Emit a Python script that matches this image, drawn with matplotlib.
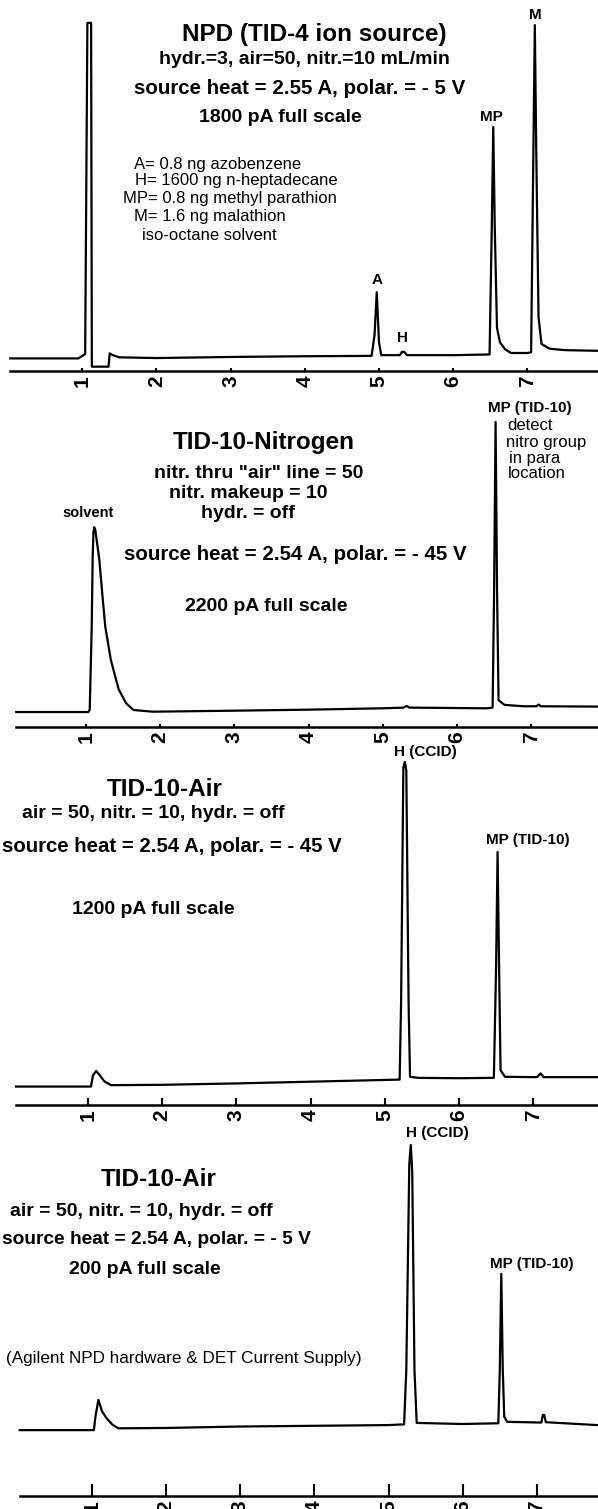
import matplotlib
matplotlib.use('Agg')
import matplotlib.pyplot as plt

plt.rcParams['font.family'] = ['Liberation Sans', 'DejaVu Sans']

W, H = 598, 1509

# retention time (min) / response (% of full scale)
npd_t = [0.03, 0.95, 1.0, 1.04, 1.07, 1.12, 1.13, 1.355, 1.37, 1.40, 1.5, 2.0, 3.0, 4.0, 4.90,
         4.94, 4.97, 5.0, 5.03, 5.28, 5.31, 5.34, 5.38, 6.0, 6.49, 6.52, 6.54, 6.56, 6.59, 6.63,
         6.70, 6.78, 7.0, 7.05, 7.08, 7.10, 7.12, 7.15, 7.19, 7.30, 7.5, 7.97]
npd_v = [3.5, 3.5, 4.2, 4.7, 96.7, 96.7, 1.2, 1.2, 4.9, 4.5, 3.8, 3.6, 3.9, 4.1, 4.2,
         10, 21.9, 8, 4.4, 4.4, 5.3, 5.3, 4.4, 4.4, 4.6, 40, 67.8, 40, 12, 8,
         6, 5.0, 5.0, 5.2, 60, 96.1, 60, 15, 7.5, 6.2, 5.8, 5.6]

n2_t = [0.06, 1.03, 1.05, 1.077, 1.09, 1.10, 1.11, 1.125, 1.15, 1.18, 1.22, 1.26, 1.335, 1.44,
        1.54, 1.64, 1.90, 3.0, 4.0, 5.0, 5.28, 5.32, 5.36, 6.4, 6.48, 6.50, 6.52, 6.54, 6.56,
        6.64, 6.9, 7.07, 7.1, 7.13, 7.89]
n2_v = [4.4, 4.4, 5.0, 29.5, 50, 57, 58.8, 58, 54, 49.1, 39, 29.5, 19.7, 11.1,
        7.0, 5.0, 4.5, 4.8, 5.1, 5.5, 5.7, 6.2, 5.7, 5.5, 5.7, 40, 89.7, 40, 7.9,
        6.5, 6.1, 6.1, 6.6, 6.1, 6.0]

air45_t = [0.03, 1.04, 1.067, 1.11, 1.16, 1.22, 1.31, 2.0, 3.0, 4.0, 5.0, 5.20, 5.22, 5.25,
           5.27, 5.29, 5.32, 5.34, 5.45, 6.0, 6.47, 6.50, 6.52, 6.54, 6.56, 6.62, 7.05, 7.10,
           7.14, 7.87]
air45_v = [5.3, 5.3, 8.5, 9.8, 8.5, 6.8, 5.7, 5.8, 6.2, 6.7, 7.2, 7.3, 30, 97,
           98.6, 96, 30, 8.1, 7.8, 7.7, 7.8, 40, 72.7, 40, 10, 8.1, 8.0, 9.1,
           8.0, 8.0]

air5_t = [0.03, 1.03, 1.05, 1.09, 1.14, 1.2, 1.28, 1.36, 2.0, 3.0, 4.0, 5.0, 5.21, 5.24,
          5.28, 5.30, 5.32, 5.35, 5.38, 6.0, 6.48, 6.50, 6.52, 6.54, 6.56, 6.60, 7.06, 7.08,
          7.10, 7.12, 7.81]
air5_v = [18.3, 18.3, 22, 26.7, 23.5, 21.6, 19.8, 18.8, 18.9, 19.3, 19.5, 19.7, 19.9, 35,
          92, 97.5, 90, 35, 20.3, 20.0, 20.2, 35, 61.7, 35, 22, 20.6, 20.4, 22.5,
          22.5, 20.5, 19.7]

ticks = [1, 2, 3, 4, 5, 6, 7]

fig = plt.figure(figsize=(W / 100, H / 100), dpi=100)


def ftext(x, y, s, size=14, weight='bold', ha='center', va='center'):
    fig.text(x / W, 1 - y / H, s, fontsize=size, fontweight=weight, ha=ha, va=va)


def panel(top, bottom, x0, t_start, t, v, ticklen, pad):
    # x0 = pixel where t=0, 74.2 px per minute in the scan
    ax = fig.add_axes([0, 1 - bottom / H, 1, (bottom - top) / H])
    ax.set_xlim(-x0 / 74.2, (W - x0) / 74.2)
    ax.set_ylim(0, 100)
    ax.plot(t, v, color='black', lw=1.6, solid_joinstyle='round')
    for s in ['top', 'right', 'left']:
        ax.spines[s].set_visible(False)
    ax.spines['bottom'].set_linewidth(1.8)
    ax.spines['bottom'].set_bounds(t_start, (W - x0) / 74.2)
    ax.set_yticks([])
    ax.set_xticks(ticks)
    ax.set_xticklabels([str(k) for k in ticks], rotation=90, fontsize=15,
                       fontweight='bold', va='top', ha='center')
    ax.tick_params(axis='x', direction='in', length=ticklen, width=1.5, pad=pad)
    ax.patch.set_visible(False)
    return ax


def peak(ax, label, t, v, dx, dy, size=11):
    ax.annotate(label, (t, v), xytext=(dx, dy), textcoords='offset pixels',
                ha='center', va='center', fontsize=size, fontweight='bold')


# panel 1 - NPD
ax1 = panel(11, 371, 8, 0.03, npd_t, npd_v, 2.5, 3)
ftext(314, 35, 'NPD (TID-4 ion source)', size=17.5)
ftext(304, 60, 'hydr.=3, air=50, nitr.=10 mL/min')
ftext(300, 89, 'source heat = 2.55 A, polar. = - 5 V', size=14.8)
ftext(280, 117, '1800 pA full scale')
ftext(134, 164, 'A= 0.8 ng azobenzene', size=12, weight='normal', ha='left')
ftext(135, 180, 'H= 1600 ng n-heptadecane', size=12, weight='normal', ha='left')
ftext(123, 198, 'MP= 0.8 ng methyl parathion', size=12, weight='normal', ha='left')
ftext(134, 216, 'M= 1.6 ng malathion', size=12, weight='normal', ha='left')
ftext(142, 236, 'iso-octane solvent', size=12, weight='normal', ha='left')
peak(ax1, 'A', 4.97, 21.9, 0, 12)
peak(ax1, 'H', 5.32, 5.3, 0, 14)
peak(ax1, 'MP', 6.52, 67.8, 0, 10)
peak(ax1, 'M', 7.10, 96.1, 0, 10)

# panel 2 - TID-10 nitrogen
ax2 = panel(387, 727, 11.8, 0.06, n2_t, n2_v, 2.5, 3)
ftext(264, 442, 'TID-10-Nitrogen', size=17.5)
ftext(259, 473, 'nitr. thru "air" line = 50')
ftext(248, 493, 'nitr. makeup = 10')
ftext(248, 514, 'hydr. = off')
ftext(295, 555, 'source heat = 2.54 A, polar. = - 45 V', size=14.8)
ftext(266, 607, '2200 pA full scale')
peak(ax2, 'solvent', 1.11, 58.8, -6, 14, size=10.5)
peak(ax2, 'MP (TID-10)', 6.52, 89.7, 34, 14)
ftext(507, 426, 'detect', size=12, weight='normal', ha='left')
ftext(506, 442, 'nitro group', size=12, weight='normal', ha='left')
ftext(509, 458, 'in para', size=12, weight='normal', ha='left')
ftext(508, 474, 'location', size=12, weight='normal', ha='left')

# panel 3 - TID-10 air, -45 V
ax3 = panel(757, 1105, 13.8, 0.03, air45_t, air45_v, 5, 3)
ftext(165, 789, 'TID-10-Air', size=17.5)
ftext(153, 813, 'air = 50, nitr. = 10, hydr. = off')
ftext(2, 846, 'source heat = 2.54 A, polar. = - 45 V', size=14.7, ha='left')
ftext(153, 909, '1200 pA full scale')
peak(ax3, 'H (CCID)', 5.27, 98.6, 21, 10)
peak(ax3, 'MP (TID-10)', 6.52, 72.7, 30, 12)

# panel 4 - TID-10 air, -5 V
ax4 = panel(1136, 1496, 17.5, 0.03, air5_t, air5_v, 9, 3)
ftext(159, 1179, 'TID-10-Air', size=17.5)
ftext(141, 1211, 'air = 50, nitr. = 10, hydr. = off')
ftext(2, 1240, 'source heat = 2.54 A, polar. = - 5 V', size=13.8, ha='left')
ftext(145, 1269, '200 pA full scale')
ftext(6, 1359, '(Agilent NPD hardware & DET Current Supply)', size=12.3, weight='normal', ha='left')
peak(ax4, 'H (CCID)', 5.30, 97.5, 27, 12)
peak(ax4, 'MP (TID-10)', 6.52, 61.7, 31, 10)

fig.savefig('out.png', dpi=100, facecolor='white')
